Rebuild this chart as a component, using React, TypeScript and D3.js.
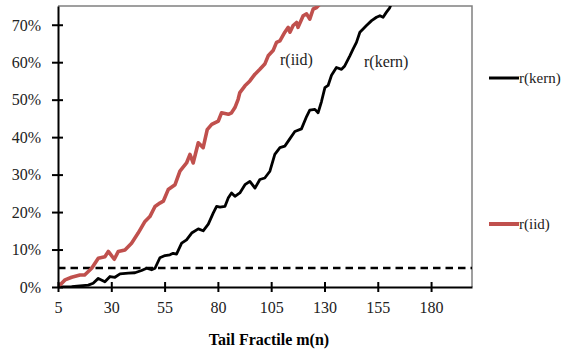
import * as d3 from "d3";
import React, { useEffect, useRef } from "react";

// tail fractile m(n) and rejection rate (%)
const iidM = [5, 8.3, 11.4, 15.3, 17.5, 20.8, 23.9, 27, 28.6, 31.4, 33.3, 36.4, 39.5, 42.6, 45.8, 48.1, 50.5, 52.8, 54.4, 56.7, 59.9, 62.2, 65.3, 66.9, 68.4, 70.8, 73.1, 75, 77.1, 80.2, 81.7, 84.9, 86.4, 88, 89.5, 90.3, 92.7, 95, 97.4, 99.7, 102, 103.6, 105.9, 107.5, 109.1, 111.4, 113, 113.8, 115.3, 116.9, 117.6, 120, 121.6, 123.1, 124.7, 126.3, 128, 129];
const iidVal = [0, 1.9, 2.6, 3.2, 3.2, 5, 7.7, 8.1, 9.5, 7.4, 9.5, 9.9, 11.7, 14.4, 17.5, 18.8, 21.5, 22.4, 22.9, 26, 27.3, 30.9, 33.1, 35.4, 33.1, 38.5, 37.2, 42, 43.4, 44.3, 46.5, 46.1, 46.5, 47.9, 50.1, 51.9, 53.7, 55, 56.8, 58.1, 59.5, 61.7, 63.1, 65.3, 65.7, 68, 69.3, 68, 69.8, 70.6, 69.3, 72.4, 72.9, 71.5, 74.2, 74.6, 75.6, 76.5];

const kernM = [5, 11.4, 19.2, 21.5, 23.9, 27, 29.4, 31.7, 34.1, 38, 41.1, 44.2, 46.6, 48.9, 50.5, 52.8, 55.2, 57.5, 59, 60.6, 63, 65.3, 67.7, 70.8, 73.1, 75.5, 77.8, 79.4, 81, 83.3, 84.9, 86.4, 88, 90.3, 92.7, 95, 97.4, 99.7, 102, 104.4, 106.7, 109.1, 111.4, 113.8, 116.1, 119.2, 121.6, 123.1, 125.5, 127, 128.6, 130.2, 131.7, 133.3, 135.6, 138, 139.5, 141.9, 143.4, 145, 146.6, 149.7, 152.1, 154.4, 156, 157.5, 159, 160.6, 161.6];
const kernVal = [0, 0.1, 0.5, 1, 2.3, 1.4, 2.8, 2.6, 3.5, 3.7, 3.8, 4.4, 5, 4.6, 5, 7.8, 8.4, 8.6, 9, 8.8, 11.7, 12.6, 14.4, 15.5, 15, 16.8, 19.7, 21.5, 21.3, 21.5, 23.8, 25.1, 24.2, 25.1, 27.3, 28.2, 26.4, 28.7, 29.1, 30.9, 35.4, 37.2, 37.6, 39.6, 41.5, 42.2, 45.5, 47.2, 47.4, 46.5, 49.5, 53.2, 53.8, 56.5, 58.6, 58.1, 59, 61.7, 63.5, 65.3, 68, 69.8, 71.1, 72, 72.4, 72, 73.3, 74.5, 76];

const xTicks = [5, 30, 55, 80, 105, 130, 155, 180];
const yTicks = [0, 10, 20, 30, 40, 50, 60, 70];
const critical = 5;

const RED = "#C0504D";
const FONT = "'Liberation Serif', 'Times New Roman', serif";

export default function App() {
  const ref = useRef<SVGSVGElement>(null);

  useEffect(() => {
    const svg = d3.select(ref.current);
    svg.selectAll("*").remove();

    const margin = { top: 6, left: 58, right: 95, bottom: 69 };
    const W = 567, H = 356;
    const width = W - margin.left - margin.right;
    const height = H - margin.top - margin.bottom;

    const x = d3.scaleLinear().domain([5, 199.2]).range([0, width]);
    const y = d3.scaleLinear().domain([0, 75]).range([height, 0]);

    const g = svg.append("g").attr("transform", `translate(${margin.left},${margin.top})`);

    g.append("clipPath").attr("id", "plotclip")
      .append("rect").attr("width", width).attr("height", height);

    // plot frame (top/right)
    g.append("path")
      .attr("d", `M0,0H${width}V${height}`)
      .attr("fill", "none").attr("stroke", "#808080").attr("stroke-width", 1.5);

    // 5% reference
    const yc = Math.round(y(critical));
    g.append("line")
      .attr("x1", 0).attr("x2", width)
      .attr("y1", yc).attr("y2", yc)
      .attr("stroke", "#000").attr("stroke-width", 2.4).attr("stroke-dasharray", "7.5,5");

    const line = d3.line<[number, number]>().x((d) => x(d[0])).y((d) => y(d[1]));

    const series = [
      { m: kernM, v: kernVal, color: "#000", w: 2.8 },
      { m: iidM, v: iidVal, color: RED, w: 3.6 },
    ];
    series.forEach((s) => {
      g.append("path")
        .datum(s.m.map((m, i) => [m, s.v[i]] as [number, number]))
        .attr("clip-path", "url(#plotclip)")
        .attr("d", line)
        .attr("fill", "none")
        .attr("stroke", s.color)
        .attr("stroke-width", s.w)
        .attr("stroke-linejoin", "round");
    });

    // axes
    const yAxis = g.append("g").call(
      d3.axisLeft(y).tickValues(yTicks).tickSizeInner(0).tickSizeOuter(0).tickFormat((d) => `${d}%`)
    );
    yAxis.select(".domain").attr("stroke", "#000").attr("stroke-width", 2);
    yAxis.selectAll(".tick line").attr("x1", -6).attr("x2", 5).attr("stroke", "#000").attr("stroke-width", 2);
    yAxis.selectAll(".tick text")
      .attr("x", -17).attr("dy", "0.33em")
      .attr("font-family", FONT).attr("font-size", 16).attr("fill", "#222");

    const xAxis = g.append("g").attr("transform", `translate(0,${height})`).call(
      d3.axisBottom(x).tickValues(xTicks).tickSizeInner(0).tickSizeOuter(0)
    );
    xAxis.select(".domain").attr("stroke", "#000").attr("stroke-width", 2);
    xAxis.selectAll(".tick line").attr("y1", -5).attr("y2", 5).attr("stroke", "#000").attr("stroke-width", 2);
    xAxis.selectAll(".tick text")
      .attr("y", 26).attr("dy", 0)
      .attr("font-family", FONT).attr("font-size", 16).attr("fill", "#222");

    g.append("text")
      .attr("x", 211).attr("y", height + 58)
      .attr("text-anchor", "middle")
      .attr("font-family", FONT).attr("font-size", 16).attr("font-weight", "bold")
      .text("Tail Fractile m(n)");

    // inline labels
    g.append("text").attr("x", 222).attr("y", 59)
      .attr("font-family", FONT).attr("font-size", 16).attr("fill", "#222").text("r(iid)");
    g.append("text").attr("x", 306).attr("y", 61)
      .attr("font-family", FONT).attr("font-size", 16).attr("fill", "#222").text("r(kern)");

    // legend
    const legend = svg.append("g");
    [
      { name: "r(kern)", color: "#000", w: 3, yy: 78 },
      { name: "r(iid)", color: RED, w: 4, yy: 224 },
    ].forEach((d) => {
      legend.append("line").attr("x1", 489).attr("x2", 519).attr("y1", d.yy).attr("y2", d.yy)
        .attr("stroke", d.color).attr("stroke-width", d.w);
      legend.append("text").attr("x", 519).attr("y", d.yy + 5)
        .attr("font-family", FONT).attr("font-size", 15).attr("fill", "#222").text(d.name);
    });
  }, []);

  return (
    <svg
      ref={ref}
      width={567}
      height={356}
      style={{ position: "absolute", left: 0, top: 0, background: "#fff" }}
    />
  );
}
